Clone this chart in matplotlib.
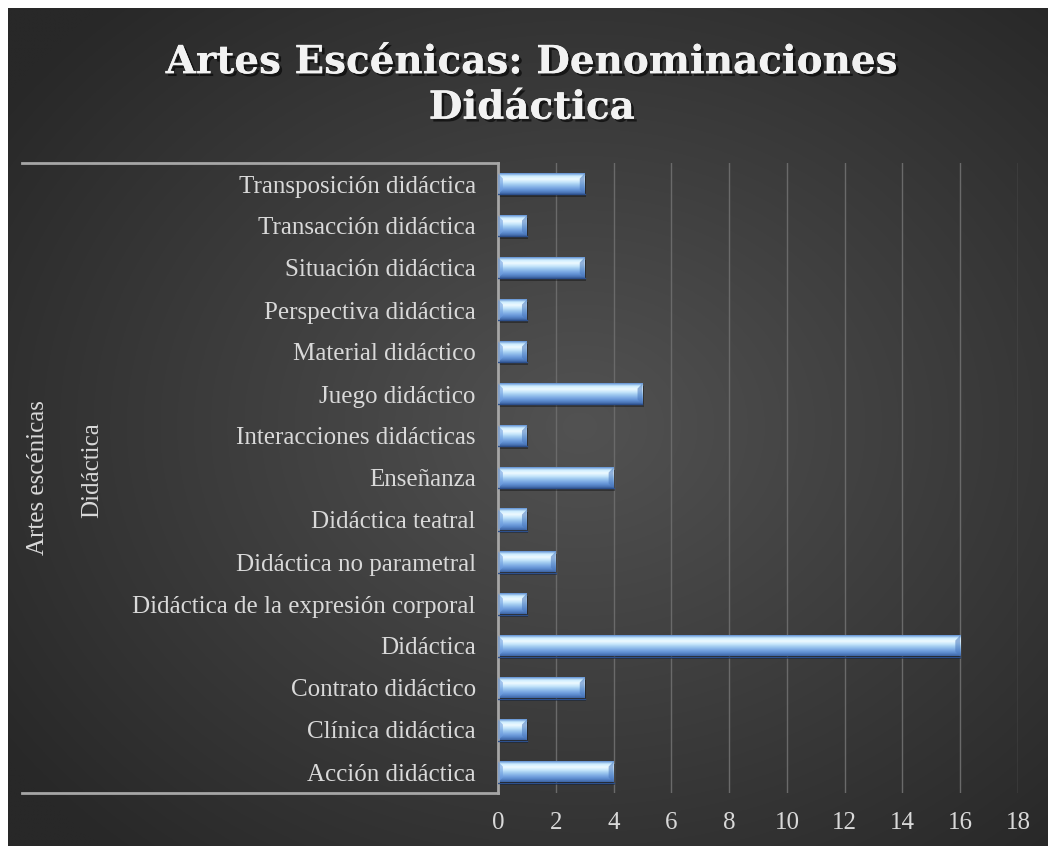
import numpy as np
import matplotlib.pyplot as plt
import matplotlib.patheffects as pe
from matplotlib.lines import Line2D
from matplotlib.colors import LinearSegmentedColormap

# data (bottom to top as drawn)
categories = ["Acción didáctica", "Clínica didáctica", "Contrato didáctico", "Didáctica",
              "Didáctica de la expresión corporal", "Didáctica no parametral",
              "Didáctica teatral", "Enseñanza", "Interacciones didácticas",
              "Juego didáctico", "Material didáctico", "Perspectiva didáctica",
              "Situación didáctica", "Transacción didáctica", "Transposición didáctica"]
values = [4, 1, 3, 16, 1, 2, 1, 4, 1, 5, 1, 1, 3, 1, 3]
x_ticks = [0, 2, 4, 6, 8, 10, 12, 14, 16, 18]
outer_label = "Artes escénicas"
inner_label = "Didáctica"
title = "Artes Escénicas: Denominaciones\nDidáctica"

W, H = 1048, 846
fig = plt.figure(figsize=(W / 100, H / 100), dpi=100)
fig.patch.set_facecolor("white")

# dark radial background inside an 8px white margin
bg = fig.add_axes([8 / W, 0, 1 - 8 / W, 1 - 8 / H])
yy, xx = np.mgrid[0:1:600j, 0:1:800j]
r = np.sqrt(((xx - 0.55) / 0.95) ** 2 + ((yy - 0.5) / 0.95) ** 2)
bg_cmap = LinearSegmentedColormap.from_list("bgc", ["#282828", "#525252"], N=1024)
bg.imshow(np.clip(1 - 1.4 * r, 0, 1), cmap=bg_cmap, vmin=0, vmax=1, aspect="auto",
          extent=(0, 1, 0, 1), interpolation="bilinear")
bg.set_axis_off()

L, R, B, T = 498 / W, 1018 / W, 1 - 793 / H, 1 - 163 / H
ax = fig.add_axes([L, B, R - L, T - B])
ax.patch.set_alpha(0)

for x in x_ticks[1:]:
    ax.axvline(x, color="#6a6a6a", lw=1, zorder=0)

bar_cmap = LinearSegmentedColormap.from_list(
    "bevel", ["#5d8ed2", "#cfeeff", "#eefaff", "#c6e6fb", "#9cc7ef",
              "#79a7e2", "#5a89cd", "#3d64a3"])
grad = np.linspace(0, 1, 128).reshape(-1, 1)
h = 0.5
bx, by = 0.17, 0.12
for i, v in enumerate(values):
    # soft shadow under the bar
    ax.add_patch(plt.Rectangle((0.04, i - h / 2 - 0.07), v, h, fc="black",
                               alpha=0.35, lw=0, zorder=1))
    ax.imshow(grad, cmap=bar_cmap, aspect="auto", origin="upper",
              extent=(0, v, i - h / 2, i + h / 2), zorder=2, interpolation="bilinear")
    # bevelled ends
    top, bot = i + h / 2, i - h / 2
    ax.add_patch(plt.Polygon([(0, top), (bx, top - by), (bx, bot + by), (0, bot)],
                             fc="#6f9fe0", alpha=0.6, lw=0, zorder=3))
    ax.add_patch(plt.Polygon([(v, top), (v - bx, top - by), (v - bx, bot + by), (v, bot)],
                             fc="#4a78bd", alpha=0.55, lw=0, zorder=3))
    ax.plot([0, v], [bot, bot], color="#2d508c", lw=1, zorder=3)
ax.set_xlim(0, 18)
ax.set_ylim(-0.5, len(categories) - 0.5)

font = "Liberation Serif"
ax.set_yticks(range(len(categories)))
ax.set_yticklabels(categories, fontsize=18, color="#d9d9d9", family=font)
ax.set_xticks(x_ticks)
ax.set_xticklabels([str(t) for t in x_ticks], fontsize=18, color="#d9d9d9", family=font)
ax.tick_params(axis="y", length=0, pad=16)
ax.tick_params(axis="x", length=0, pad=14)
for s in ["top", "right", "bottom"]:
    ax.spines[s].set_visible(False)
ax.spines["left"].set_color("#a6a6a6")
ax.spines["left"].set_linewidth(2)

# multi-level category brackets
for yp in (163, 793):
    fig.add_artist(Line2D([22 / W, L], [1 - yp / H, 1 - yp / H],
                          color="#a6a6a6", lw=2))
fig.text(38 / W, 1 - 478 / H, outer_label, rotation=90, ha="center", va="center",
         fontsize=18, color="#d9d9d9", family=font)
fig.text(92 / W, 1 - 470 / H, inner_label, rotation=90, ha="center", va="center",
         fontsize=18, color="#d9d9d9", family=font)

fig.text(532 / W, 1 - 85 / H, title, ha="center", va="center", fontsize=28,
         fontweight="bold", color="#f2f2f2", family="DejaVu Serif", linespacing=1.25,
         path_effects=[pe.withSimplePatchShadow(offset=(2, -2), shadow_rgbFace="black",
                                                alpha=0.6), pe.Normal()])

fig.savefig("out.png", dpi=100)
